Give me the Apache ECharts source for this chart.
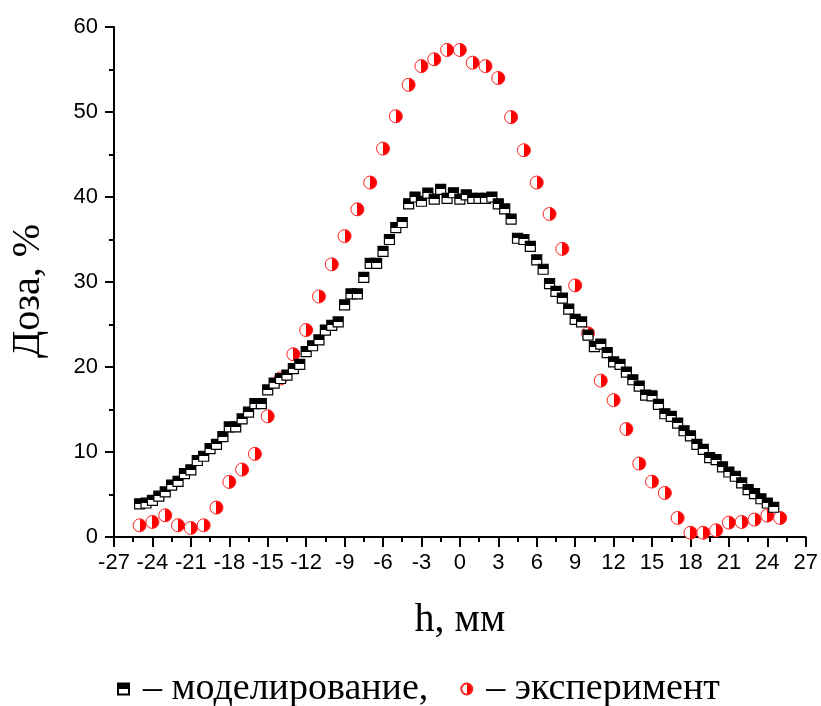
<!DOCTYPE html>
<html>
<head>
<meta charset="utf-8">
<script src="https://cdn.jsdelivr.net/npm/echarts@6/dist/echarts.min.js"></script>
<style>
  html, body { margin: 0; padding: 0; background: #fff; }
  #chart { width: 821px; height: 706px; }
</style>
</head>
<body>
<div id="chart"></div>
<script>
// моделирование: h (мм) и доза (%)
const modelH = [
  -25, -24.5, -24, -23.5, -23, -22.5, -22, -21.5, -21, -20.5,
  -20, -19.5, -19, -18.5, -18, -17.5, -17, -16.5, -16, -15.5,
  -15, -14.5, -14, -13.5, -13, -12.5, -12, -11.5, -11, -10.5,
  -10, -9.5, -9, -8.5, -8, -7.5, -7, -6.5, -6, -5.5,
  -5, -4.5, -4, -3.5, -3, -2.5, -2, -1.5, -1, -0.5,
  0, 0.5, 1, 1.5, 2, 2.5, 3, 3.5, 4, 4.5,
  5, 5.5, 6, 6.5, 7, 7.5, 8, 8.5, 9, 9.5,
  10, 10.5, 11, 11.5, 12, 12.5, 13, 13.5, 14, 14.5,
  15, 15.5, 16, 16.5, 17, 17.5, 18, 18.5, 19, 19.5,
  20, 20.5, 21, 21.5, 22, 22.5, 23, 23.5, 24, 24.5
];
const modelDose = [
  3.9, 4.0, 4.3, 4.8, 5.3, 6.1, 6.55, 7.45, 7.9, 9.0,
  9.5, 10.4, 10.9, 11.8, 12.95, 12.95, 13.9, 14.7, 15.7, 15.7,
  17.3, 18.1, 18.65, 19.05, 19.8, 20.3, 21.8, 22.5, 23.2, 24.35,
  24.9, 25.3, 27.3, 28.6, 28.6, 30.55, 32.2, 32.2, 33.6, 35.0,
  36.4, 37.0, 39.2, 40.0, 39.5, 40.45, 39.75, 40.9, 39.85, 40.5,
  39.75, 40.25, 39.85, 39.85, 39.85, 40.0, 39.2, 38.6, 37.4, 35.15,
  35.0, 34.2, 32.6, 31.5, 29.8, 28.9, 28.1, 26.8, 25.6, 25.3,
  23.75, 22.4, 22.7, 21.7, 20.6, 20.3, 19.4, 18.5, 17.75, 16.7,
  16.6, 15.6, 14.5, 14.2, 13.4, 12.5, 11.9, 10.9, 10.3, 9.35,
  9.1, 8.25, 7.65, 7.15, 6.36, 5.58, 5.1, 4.5, 4.0, 3.5
];

// эксперимент
const expH = [
  -25, -24, -23, -22, -21, -20, -19, -18, -17, -16,
  -15, -14, -13, -12, -11, -10, -9, -8, -7, -6,
  -5, -4, -3, -2, -1, 0, 1, 2, 3, 4,
  5, 6, 7, 8, 9, 10, 11, 12, 13, 14,
  15, 16, 17, 18, 19, 20, 21, 22, 23, 24, 25
];
const expDose = [
  1.38, 1.77, 2.55, 1.38, 1.06, 1.38, 3.46, 6.48, 7.93, 9.78,
  14.2, 18.65, 21.5, 24.35, 28.3, 32.08, 35.4, 38.55, 41.7, 45.7,
  49.5, 53.2, 55.4, 56.2, 57.3, 57.3, 55.8, 55.4, 54.0, 49.4,
  45.5, 41.7, 38.0, 33.9, 29.6, 23.96, 18.4, 16.1, 12.7, 8.64,
  6.52, 5.18, 2.24, 0.5, 0.5, 0.79, 1.69, 1.77, 2.05, 2.52, 2.24
];

const seriesNames = ['– моделирование,', '– эксперимент'];

const chart = echarts.init(document.getElementById('chart'));

// половинка закрашена: квадрат сверху черный, круг справа красный
const squareFill = new echarts.graphic.LinearGradient(0, 0, 0, 1, [
  { offset: 0, color: '#000' }, { offset: 0.5, color: '#000' },
  { offset: 0.5, color: '#fff' }, { offset: 1, color: '#fff' }
]);
const circleFill = new echarts.graphic.LinearGradient(0, 0, 1, 0, [
  { offset: 0, color: '#fff' }, { offset: 0.5, color: '#fff' },
  { offset: 0.5, color: '#ff0000' }, { offset: 1, color: '#ff0000' }
]);

const axisFont = { fontFamily: 'Liberation Sans', fontSize: 22, color: '#000' };

const option = {
  animation: false,
  backgroundColor: '#fff',
  grid: { left: 114, right: 14, top: 27, bottom: 169 },
  legend: {
    data: seriesNames,
    left: 112,
    top: 665,
    itemWidth: 11,
    itemHeight: 11,
    itemGap: 32,
    textStyle: { fontFamily: 'Liberation Serif', fontSize: 38, color: '#000', padding: [0, 0, 0, 9] }
  },
  xAxis: {
    type: 'value',
    min: -27,
    max: 27,
    interval: 3,
    name: 'h, мм',
    nameLocation: 'middle',
    nameGap: 63,
    nameTextStyle: { fontFamily: 'Liberation Serif', fontSize: 40, color: '#000' },
    axisLine: { onZero: false, lineStyle: { color: '#000', width: 2 } },
    axisTick: { length: 10, lineStyle: { color: '#000', width: 2 } },
    minorTick: { show: true, splitNumber: 2, length: 5, lineStyle: { color: '#000', width: 2 } },
    axisLabel: Object.assign({ margin: 15, hideOverlap: false, showMinLabel: true, showMaxLabel: true }, axisFont),
    splitLine: { show: false }
  },
  yAxis: {
    type: 'value',
    min: 0,
    max: 60,
    interval: 10,
    name: 'Доза, %',
    nameLocation: 'middle',
    nameGap: 66,
    nameTextStyle: { fontFamily: 'Liberation Serif', fontSize: 40, color: '#000', padding: [0, 18, 0, 0] },
    axisLine: { show: true, onZero: false, lineStyle: { color: '#000', width: 2 } },
    axisTick: { show: true, length: 9, lineStyle: { color: '#000', width: 2 } },
    minorTick: { show: true, splitNumber: 2, length: 5, lineStyle: { color: '#000', width: 2 } },
    axisLabel: Object.assign({ margin: 16 }, axisFont),
    splitLine: { show: false }
  },
  series: [
    {
      name: seriesNames[1],
      type: 'scatter',
      z: 2,
      symbol: 'circle',
      symbolSize: 13,
      itemStyle: { color: circleFill, borderColor: '#ff2020', borderWidth: 1, opacity: 1 },
      data: expH.map((h, i) => [h, expDose[i]])
    },
    {
      name: seriesNames[0],
      type: 'scatter',
      z: 3,
      symbol: 'rect',
      symbolSize: 10,
      itemStyle: { color: squareFill, borderColor: '#000', borderWidth: 1.2, opacity: 1 },
      data: modelH.map((h, i) => [h, modelDose[i]])
    }
  ]
};

chart.setOption(option);
</script>
</body>
</html>
